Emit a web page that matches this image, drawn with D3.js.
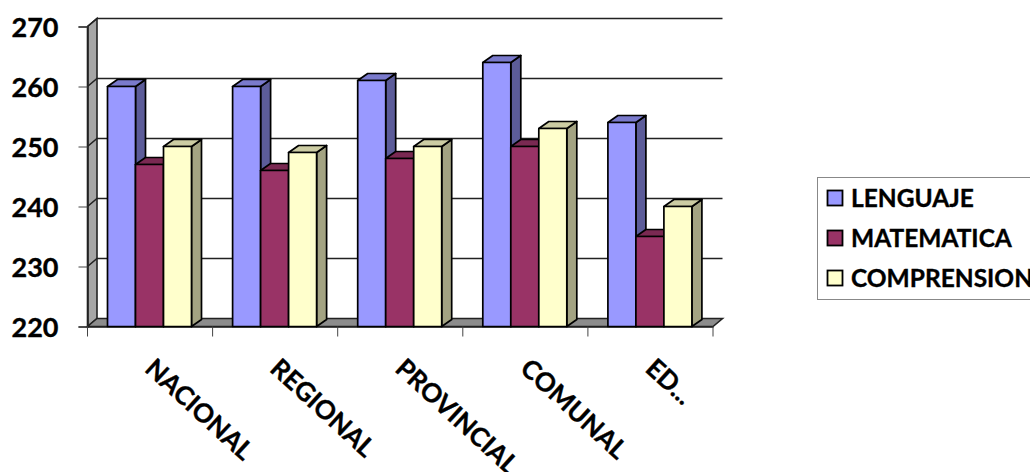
<!DOCTYPE html>
<html>
<head>
<meta charset="utf-8">
<script src="https://cdn.jsdelivr.net/npm/d3@7"></script>
<style>
    html, body { margin: 0; padding: 0; background: #fff; overflow: hidden; }
    text { font-family: Lato, "Open Sans", sans-serif; font-weight: 700; fill: #000; stroke: #000; stroke-width: 0.35px; }
</style>
</head>
<body>
<div id="chart"></div>
<script>
const categories = ["NACIONAL", "REGIONAL", "PROVINCIAL", "COMUNAL", "ED..."];
const seriesNames = ["LENGUAJE", "MATEMATICA", "COMPRENSION"];
const lenguaje = [260, 260, 261, 264, 254];
const matematica = [247, 246, 248, 250, 235];
const comprension = [250, 249, 250, 253, 240];
const yTicks = [220, 230, 240, 250, 260, 270];

const front = ["#9999ff", "#993366", "#ffffcc"];
const top3d = ["#7a7acc", "#7a2952", "#cccca3"];
const side = ["#5c5c99", "#5c1f3d", "#a3a382"];

const width = 1030, height = 472;
const plot = {left: 87.5, right: 713, top: 26.5, bottom: 326.5};
const depth = {x: 9.5, y: -8};
const barDepth = {x: 10, y: -7};

const svg = d3.select("#chart").append("svg")
    .attr("width", width)
    .attr("height", height);

const x = d3.scaleBand()
    .domain(categories)
    .range([plot.left, plot.right]);

const y = d3.scaleLinear()
    .domain([220, 270])
    .range([plot.bottom, plot.top]);

const inner = d3.scaleBand()
    .domain(d3.range(seriesNames.length))
    .range([20, 104]);

const line = pts => d3.line()(pts) + "Z";

// side wall and floor
svg.append("path")
    .attr("d", line([[plot.left, plot.bottom], [plot.left, plot.top],
        [plot.left + depth.x, plot.top + depth.y], [plot.left + depth.x, plot.bottom + depth.y]]))
    .attr("fill", "#a6a6a6")
    .attr("stroke", "#222")
    .attr("stroke-width", 1.6);

svg.append("path")
    .attr("d", line([[plot.left, plot.bottom], [plot.right, plot.bottom],
        [plot.right + depth.x, plot.bottom + depth.y], [plot.left + depth.x, plot.bottom + depth.y]]))
    .attr("fill", "#8c8c8c")
    .attr("stroke", "#222")
    .attr("stroke-width", 1.6);

// grid lines run along the side wall then the back wall
svg.append("g").selectAll("path")
    .data(yTicks.slice(1))
    .join("path")
    .attr("d", d => d3.line()([[plot.left, y(d)], [plot.left + depth.x, y(d) + depth.y],
        [plot.right + depth.x, y(d) + depth.y]]))
    .attr("fill", "none")
    .attr("stroke", "#222")
    .attr("stroke-width", 1.6);

// axes
const yAxis = d3.axisLeft(y)
    .tickValues(yTicks)
    .tickSize(9)
    .tickPadding(20);

const yG = svg.append("g")
    .attr("transform", `translate(${plot.left}, 0)`)
    .call(yAxis);
yG.selectAll("text")
    .style("font-size", "27px")
    .attr("dy", "0.36em");
yG.select(".domain").attr("stroke", "#222").attr("stroke-width", 1.6);
yG.selectAll("line").attr("stroke", "#444");

const xAxis = d3.axisBottom(x)
    .tickValues([])
    .tickSize(0);

const xG = svg.append("g")
    .attr("transform", `translate(0, ${plot.bottom})`)
    .call(xAxis);
xG.select(".domain").attr("stroke", "#222").attr("stroke-width", 1.6);

const boundaries = categories.map(c => x(c)).concat(plot.right);
xG.selectAll("line.sep")
    .data(boundaries)
    .join("line")
    .attr("class", "sep")
    .attr("x1", d => d)
    .attr("x2", d => d)
    .attr("y1", 0)
    .attr("y2", 10)
    .attr("stroke", "#444");

xG.selectAll("text.cat")
    .data(categories)
    .join("text")
    .attr("class", "cat")
    .attr("text-anchor", "start")
    .attr("transform", d => `translate(${x(d) + 56}, 44) rotate(42.5)`)
    .style("font-size", "26px")
    .text(d => d);

// bars, left to right so the next bar hides the side of the one before
const values = [lenguaje, matematica, comprension];
const bars = [];
categories.forEach((c, i) => {
    values.forEach((v, s) => bars.push({cat: c, series: s, value: v[i]}));
});

const barG = svg.append("g").selectAll("g")
    .data(bars)
    .join("g")
    .attr("stroke", "#000")
    .attr("stroke-width", 1.7)
    .attr("stroke-linejoin", "round");

const x0 = d => x(d.cat) + inner(d.series);
const x1 = d => x0(d) + inner.bandwidth();

barG.append("path")
    .attr("fill", d => side[d.series])
    .attr("d", d => line([[x1(d), y(d.value)], [x1(d) + barDepth.x, y(d.value) + barDepth.y],
        [x1(d) + barDepth.x, plot.bottom + barDepth.y], [x1(d), plot.bottom]]));

barG.append("path")
    .attr("fill", d => top3d[d.series])
    .attr("d", d => line([[x0(d), y(d.value)], [x1(d), y(d.value)],
        [x1(d) + barDepth.x, y(d.value) + barDepth.y], [x0(d) + barDepth.x, y(d.value) + barDepth.y]]));

barG.append("rect")
    .attr("fill", d => front[d.series])
    .attr("x", x0)
    .attr("y", d => y(d.value))
    .attr("width", inner.bandwidth())
    .attr("height", d => plot.bottom - y(d.value));

// legend, the box runs off the right edge like the original
const legend = svg.append("g");
legend.append("rect")
    .attr("x", 817.5)
    .attr("y", 177.5)
    .attr("width", 240)
    .attr("height", 122)
    .attr("fill", "#fff")
    .attr("stroke", "#888");

const legendY = d3.scalePoint()
    .domain(seriesNames)
    .range([198, 278]);

const legendItem = legend.selectAll("g.item")
    .data(seriesNames)
    .join("g")
    .attr("class", "item")
    .attr("transform", d => `translate(0, ${legendY(d)})`);

legendItem.append("rect")
    .attr("x", 827.5)
    .attr("y", -7.5)
    .attr("width", 15)
    .attr("height", 15)
    .attr("fill", (d, i) => front[i])
    .attr("stroke", "#000")
    .attr("stroke-width", 1.8);

legendItem.append("text")
    .attr("x", 851)
    .attr("dy", "0.35em")
    .style("font-size", "24.5px")
    .text(d => d);
</script>
</body>
</html>
